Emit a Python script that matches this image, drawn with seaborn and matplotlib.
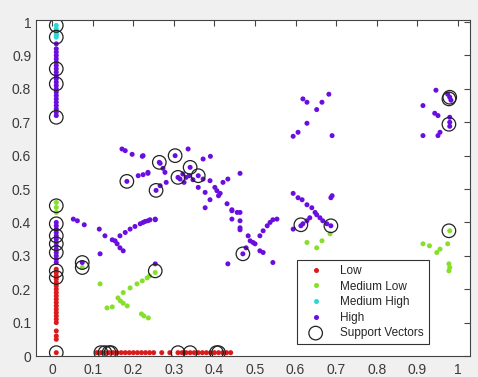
import numpy as np
import pandas as pd
import matplotlib
matplotlib.use('Agg')
import matplotlib.pyplot as plt
import seaborn as sns

# 各类样本点
low_x = [0.01] * 21 + [0.11, 0.12, 0.13, 0.14, 0.15, 0.16, 0.17, 0.18, 0.19, 0.2, 0.21, 0.22, 0.23, 0.24,
                       0.25, 0.27, 0.29, 0.31, 0.32, 0.33, 0.34, 0.35, 0.36, 0.37, 0.38, 0.39, 0.4, 0.41,
                       0.42, 0.43, 0.44]
low_y = [0.01, 0.05, 0.06, 0.075, 0.1, 0.11, 0.12, 0.13, 0.14, 0.15, 0.16, 0.17, 0.18, 0.19, 0.2, 0.21,
         0.22, 0.23, 0.24, 0.25, 0.26] + [0.01] * 31

medlow_x = [0.01, 0.01, 0.01, 0.074, 0.118, 0.135, 0.148, 0.162, 0.168, 0.175, 0.185, 0.175, 0.192, 0.209,
            0.222, 0.234, 0.24, 0.254, 0.22, 0.226, 0.237, 0.628, 0.652, 0.665, 0.685, 0.914, 0.93, 0.948,
            0.956, 0.975, 0.978, 0.98, 0.978, 0.98]
medlow_y = [0.43, 0.445, 0.46, 0.265, 0.216, 0.144, 0.147, 0.174, 0.165, 0.158, 0.15, 0.19, 0.204, 0.216,
            0.225, 0.234, 0.24, 0.25, 0.126, 0.12, 0.114, 0.34, 0.324, 0.345, 0.366, 0.336, 0.33, 0.31,
            0.32, 0.336, 0.276, 0.265, 0.255, 0.375]

medhigh_x = [0.01, 0.01, 0.01, 0.01, 0.01, 0.01]
medhigh_y = [0.99, 0.98, 0.97, 0.965, 0.96, 0.955]

high_x = ([0.01] * 22 + [0.01] * 13 +
          [0.074, 0.052, 0.062, 0.079, 0.116, 0.13, 0.148, 0.155, 0.167, 0.18, 0.192, 0.204, 0.217, 0.229,
           0.241, 0.254, 0.16, 0.167, 0.175, 0.118, 0.224, 0.236, 0.254,
           0.172, 0.18, 0.197, 0.222, 0.184, 0.212, 0.224, 0.236, 0.264, 0.266, 0.273, 0.278, 0.256, 0.266,
           0.281, 0.303, 0.31, 0.335, 0.224, 0.236, 0.372, 0.39, 0.463, 0.34, 0.36, 0.315, 0.322, 0.33,
           0.338, 0.347, 0.325, 0.36, 0.372, 0.414, 0.431, 0.443, 0.463, 0.389, 0.401, 0.406, 0.41, 0.421,
           0.433, 0.377, 0.389, 0.377, 0.443, 0.456, 0.443, 0.463, 0.463, 0.463, 0.483, 0.488, 0.495, 0.5,
           0.47, 0.478, 0.512, 0.52, 0.53, 0.537, 0.544, 0.554, 0.512, 0.52, 0.433, 0.544, 0.254,
           0.618, 0.628, 0.665, 0.682, 0.652, 0.628, 0.606, 0.594, 0.69,
           0.594, 0.606, 0.616, 0.628, 0.64, 0.648, 0.652, 0.69, 0.687, 0.635, 0.628, 0.618, 0.613, 0.594,
           0.66, 0.667, 0.677, 0.687,
           0.946, 0.914, 0.943, 0.951, 0.914, 0.956, 0.951, 0.975, 0.98, 0.983, 0.98, 0.98, 0.98])
high_y = ([0.72, 0.73, 0.74, 0.75, 0.76, 0.77, 0.78, 0.79, 0.8, 0.81, 0.82, 0.83, 0.84, 0.85, 0.86, 0.87,
           0.88, 0.89, 0.9, 0.91, 0.92, 0.935] +
          [0.28, 0.29, 0.3, 0.31, 0.32, 0.33, 0.34, 0.35, 0.36, 0.37, 0.38, 0.39, 0.4] +
          [0.28, 0.41, 0.405, 0.393, 0.38, 0.36, 0.348, 0.345, 0.36, 0.37, 0.38, 0.388, 0.396, 0.403,
           0.408, 0.408, 0.336, 0.324, 0.315, 0.306, 0.4, 0.405, 0.41,
           0.62, 0.615, 0.604, 0.598, 0.523, 0.54, 0.543, 0.55, 0.58, 0.577, 0.562, 0.55, 0.496, 0.51,
           0.52, 0.6, 0.535, 0.62, 0.6, 0.547, 0.59, 0.598, 0.547, 0.565, 0.54, 0.53, 0.545, 0.535,
           0.54, 0.528, 0.52, 0.505, 0.53, 0.487, 0.456, 0.438, 0.43, 0.525, 0.505, 0.495, 0.48, 0.52,
           0.53, 0.49, 0.468, 0.444, 0.435, 0.43, 0.41, 0.405, 0.384, 0.378, 0.36, 0.345, 0.34, 0.336,
           0.306, 0.324, 0.36, 0.375, 0.39, 0.4, 0.408, 0.41, 0.315, 0.31, 0.276, 0.28, 0.276,
           0.77, 0.76, 0.76, 0.784, 0.738, 0.697, 0.67, 0.658, 0.66,
           0.487, 0.474, 0.468, 0.453, 0.444, 0.43, 0.423, 0.48, 0.474, 0.414, 0.405, 0.396, 0.39, 0.38,
           0.414, 0.405, 0.396, 0.39,
           0.796, 0.75, 0.727, 0.72, 0.66, 0.67, 0.66, 0.784, 0.775, 0.766, 0.715, 0.7, 0.688])

sv_x = [0.01, 0.01, 0.01, 0.01, 0.01, 0.01, 0.01, 0.01, 0.01, 0.01, 0.01, 0.01, 0.01, 0.074, 0.074,
        0.12, 0.13, 0.14, 0.145, 0.31, 0.34, 0.405, 0.41, 0.254, 0.184, 0.256, 0.264, 0.303, 0.31,
        0.34, 0.36, 0.47, 0.613, 0.687, 0.978, 0.98, 0.978, 0.978]
sv_y = [0.99, 0.955, 0.86, 0.815, 0.715, 0.45, 0.396, 0.36, 0.336, 0.31, 0.255, 0.235, 0.01, 0.28, 0.265,
        0.01, 0.01, 0.01, 0.01, 0.01, 0.01, 0.01, 0.01, 0.255, 0.523, 0.496, 0.58, 0.6, 0.535, 0.565,
        0.54, 0.306, 0.393, 0.39, 0.375, 0.775, 0.77, 0.694]

class_names = ['Low', 'Medium Low', 'Medium High', 'High']
class_colors = ['#dd1a1a', '#86e02a', '#2fd6d6', '#6a0ee0']

data = pd.concat([
    pd.DataFrame({'x': low_x, 'y': low_y, 'cls': 'Low'}),
    pd.DataFrame({'x': medlow_x, 'y': medlow_y, 'cls': 'Medium Low'}),
    pd.DataFrame({'x': medhigh_x, 'y': medhigh_y, 'cls': 'Medium High'}),
    pd.DataFrame({'x': high_x, 'y': high_y, 'cls': 'High'}),
], ignore_index=True)
sv = pd.DataFrame({'x': sv_x, 'y': sv_y})

sns.set_style('white')
plt.rcParams['font.family'] = ['Liberation Sans', 'DejaVu Sans']

fig = plt.figure(figsize=(4.78, 3.77), dpi=100, facecolor='#f0f0f0')
ax = fig.add_axes([0.0753, 0.0557, 0.908, 0.891])

sns.scatterplot(data=data, x='x', y='y', hue='cls', hue_order=class_names,
                palette=class_colors, s=13, linewidth=0, ax=ax)
sns.scatterplot(data=sv, x='x', y='y', s=95, facecolors='none', edgecolor='#222222',
                linewidth=0.9, label='Support Vectors', ax=ax)

ax.set_xlim(-0.04, 1.03)
ax.set_ylim(0, 1.006)
ticks = [0, 0.1, 0.2, 0.3, 0.4, 0.5, 0.6, 0.7, 0.8, 0.9, 1]
tick_labels = ['0', '0.1', '0.2', '0.3', '0.4', '0.5', '0.6', '0.7', '0.8', '0.9', '1']
ax.set_xticks(ticks)
ax.set_xticklabels(tick_labels)
ax.set_yticks(ticks)
ax.set_yticklabels(tick_labels)
ax.set_xlabel('')
ax.set_ylabel('')
ax.tick_params(direction='in', length=4, width=0.8, top=True, right=True,
               labelsize=10, labelcolor='#3a3a3a', color='#444444')
ax.tick_params(axis='x', pad=5)
for sp in ax.spines.values():
    sp.set_color('#444444')
    sp.set_linewidth(0.8)

leg = ax.legend(loc='lower right', bbox_to_anchor=(0.905, 0.036), fontsize=8.5,
                frameon=True, fancybox=False, edgecolor='#333333', framealpha=1,
                labelspacing=0.3, handletextpad=0.9, handlelength=2.4, borderpad=0.4,
                borderaxespad=0, markerscale=1.0)
leg.get_frame().set_linewidth(0.8)

plt.savefig('out.png', dpi=100, facecolor=fig.get_facecolor())
